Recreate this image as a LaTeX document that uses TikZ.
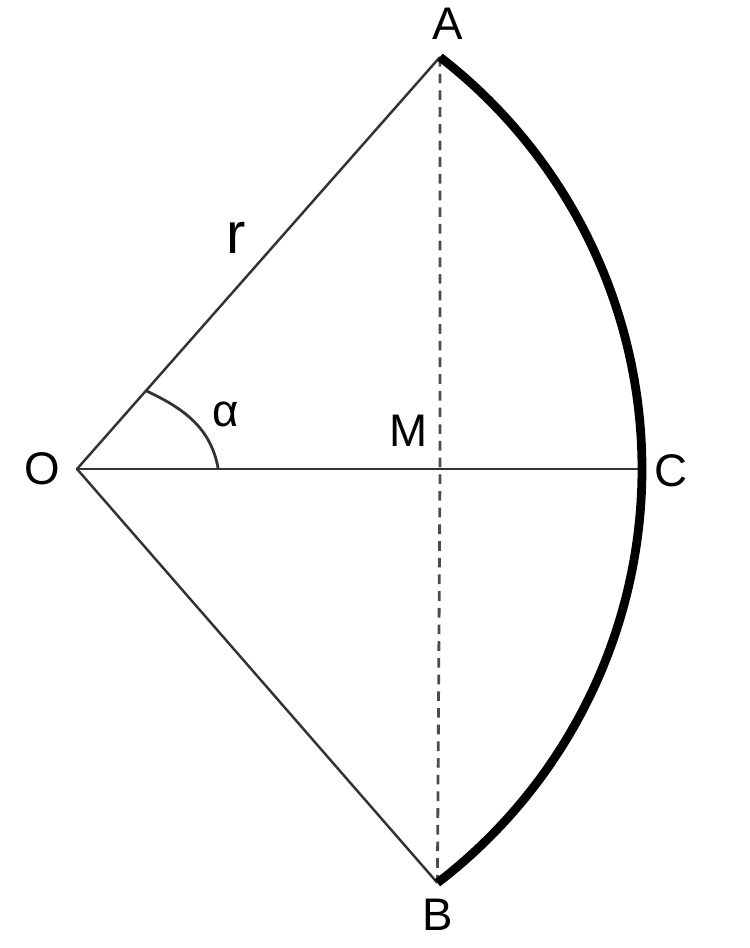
\documentclass[tikz,border=0pt]{standalone}
\usepackage{fontspec}
\setmainfont{Liberation Sans}
\usetikzlibrary{calc}

\begin{document}
\begin{tikzpicture}[x=0.02cm,y=0.02cm, line join=round,
	lbl/.style={inner sep=0pt, font=\fontsize{26}{30}\selectfont},
	thin line/.style={draw=black!80, line width=1.4pt},
	chord/.style={draw=black!70, line width=1.6pt, dash pattern=on 5.5pt off 4pt},
	bow/.style={draw=black, line width=5pt}]
	\useasboundingbox (0,0) rectangle (750,948);
	%points of the sector
	\coordinate (O) at (77,479);\coordinate (Z) at (121,479);
	\coordinate (A) at ($(Z)+(52.25:521)$);\coordinate (B) at ($(Z)+(-52.6:521)$);
	\coordinate (C) at ($(Z)+(0:521)$);\coordinate (M) at (440,479);
	%% radii, axis and chord
	\draw[thin line] (A) -- (O) -- (B);
	\draw[thin line] (O) -- (C);
	\draw[chord] (A) -- (M) -- (B);
	%% thick arc
	\draw[bow] (A) arc[start angle=52.25, end angle=-52.6, radius=521];
	%% angle mark
	\draw[thin line, line width=1.6pt] ($(O)!0.19!(A)$) to[out=-25, in=100] ($(O)!0.25!(C)$);
	%% labels
	\node[lbl] (lA) at (448,924) {A};
	\node[lbl] (lB) at (438,33) {B};
	\node[lbl] (lC) at (671,477) {C};
	\node[lbl] (lO) at (42,479) {O};
	\node[lbl] (lM) at (409,517) {M};
	\node[lbl] (lalpha) at (226,534) {α};
	\node[lbl, font=\fontsize{33}{38}\selectfont] (lr) at (236,710) {r};
\end{tikzpicture}
\end{document}
